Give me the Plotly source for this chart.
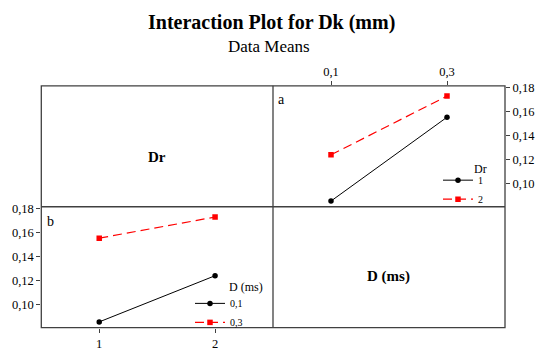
import plotly.graph_objects as go

# ---- data ----
dr_levels = [1, 2]
d_levels = [0.1, 0.3]
d_tick_labels = ["0,1", "0,3"]
dr_tick_labels = ["1", "2"]
y_ticks = [0.10, 0.12, 0.14, 0.16, 0.18]
y_tick_labels = ["0,10", "0,12", "0,14", "0,16", "0,18"]
# means of Dk for each Dr level across D levels (0.1, 0.3)
mean_dr1 = [0.0853, 0.1555]
mean_dr2 = [0.1240, 0.1732]

W, H = 541, 351
FONT = "Liberation Serif"
LINEC = "#404040"

def px(x):
    return x / W

def py(y):
    return 1 - y / H

xL = [px(41.3), px(273)]
xR = [px(273), px(505)]
yTop = [py(205.7), py(83)]
yBot = [py(328.3), py(205.7)]

fig = go.Figure()

black = dict(color="black", width=1, dash="solid")
red = dict(color="#FF0000", width=1.2, dash="9px,5px")
mk_black = dict(symbol="circle", size=5.5, color="black")
mk_red = dict(symbol="square", size=5.5, color="#FF0000")

# Panel a: x = D, one line per Dr
fig.add_trace(go.Scatter(x=d_levels, y=mean_dr1, mode="lines+markers", name=dr_tick_labels[0],
                         line=black, marker=mk_black, xaxis="x2", yaxis="y2", legend="legend"))
fig.add_trace(go.Scatter(x=d_levels, y=mean_dr2, mode="lines+markers", name=dr_tick_labels[1],
                         line=red, marker=mk_red, xaxis="x2", yaxis="y2", legend="legend"))

# Panel b: x = Dr, one line per D
fig.add_trace(go.Scatter(x=dr_levels, y=[mean_dr1[0], mean_dr2[0]], mode="lines+markers",
                         name=d_tick_labels[0], line=black, marker=mk_black,
                         xaxis="x", yaxis="y", legend="legend2"))
fig.add_trace(go.Scatter(x=dr_levels, y=[mean_dr1[1], mean_dr2[1]], mode="lines+markers",
                         name=d_tick_labels[1], line=red, marker=mk_red,
                         xaxis="x", yaxis="y", legend="legend2"))

tickfont = dict(family=FONT, size=12.5, color="black")
common = dict(showgrid=False, zeroline=False, showline=False, ticks="outside",
              ticklen=4, tickwidth=1, tickcolor=LINEC, tickfont=tickfont)
yr = [0.0805, 0.1818]

fig.update_layout(
    width=W, height=H, autosize=False,
    margin=dict(l=0, r=0, t=0, b=0),
    paper_bgcolor="white", plot_bgcolor="white",
    font=dict(family=FONT, color="black"),
    xaxis=dict(domain=xL, anchor="y", side="bottom", range=[0.5, 2.5],
               tickvals=dr_levels, ticktext=dr_tick_labels, **common),
    yaxis=dict(domain=yBot, anchor="x", side="left", range=yr,
               tickvals=y_ticks, ticktext=y_tick_labels, **common),
    xaxis2=dict(domain=xR, anchor="y2", side="top", range=[0, 0.4],
                tickvals=d_levels, ticktext=d_tick_labels, **common),
    yaxis2=dict(domain=yTop, anchor="x2", side="right", range=yr,
                tickvals=y_ticks, ticktext=y_tick_labels, **common),
    showlegend=True,
    legend=dict(x=px(438), y=py(164), xanchor="left", yanchor="top",
                bgcolor="rgba(0,0,0,0)", font=dict(family=FONT, size=10),
                itemwidth=30, tracegroupgap=0),
    legend2=dict(x=px(190), y=py(289), xanchor="left", yanchor="top",
                 bgcolor="rgba(0,0,0,0)", font=dict(family=FONT, size=10),
                 itemwidth=30, tracegroupgap=0),
)

# frame
shapes = [
    dict(type="rect", xref="paper", yref="paper", x0=xL[0], x1=xR[1], y0=yBot[0], y1=yTop[1],
         line=dict(color=LINEC, width=1.3)),
    dict(type="line", xref="paper", yref="paper", x0=xL[1], x1=xL[1], y0=yBot[0], y1=yTop[1],
         line=dict(color=LINEC, width=1.3)),
    dict(type="line", xref="paper", yref="paper", x0=xL[0], x1=xR[1], y0=yTop[0], y1=yTop[0],
         line=dict(color=LINEC, width=1.3)),
]
fig.update_layout(shapes=shapes)

ann = [
    dict(text="<b>Interaction Plot for Dk (mm)</b>", x=px(271), y=py(19), font=dict(size=20)),
    dict(text="Data Means", x=px(269), y=py(43), font=dict(size=17)),
    dict(text="<b>Dr</b>", x=px(157), y=py(155), font=dict(size=15)),
    dict(text="<b>D (ms)</b>", x=px(388), y=py(276), font=dict(size=15)),
    dict(text="a", x=px(281), y=py(97), font=dict(size=14)),
    dict(text="b", x=px(50), y=py(221), font=dict(size=14)),
    dict(text="Dr", x=px(480), y=py(167), font=dict(size=12)),
    dict(text="D (ms)", x=px(246), y=py(287), font=dict(size=12)),
]
for a in ann:
    a.update(xref="paper", yref="paper", showarrow=False, xanchor="center", yanchor="middle")
    a["font"].update(family=FONT, color="black")
fig.update_layout(annotations=ann)

fig.write_html("out.html", config={"displayModeBar": False},
               post_script="document.body.style.margin='0';document.body.style.overflow='hidden';")
